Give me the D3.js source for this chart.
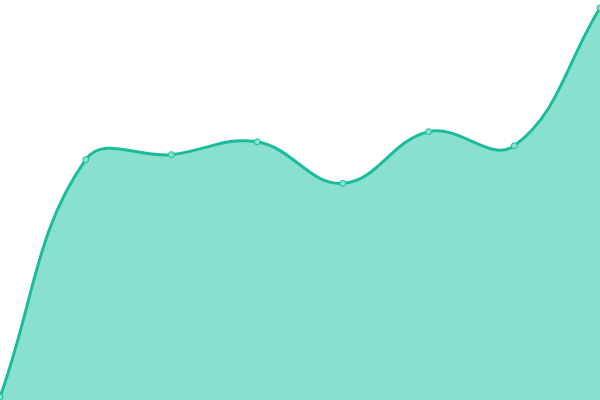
<!DOCTYPE html>
<html>
<head>
<meta charset="utf-8">
<script src="https://cdn.jsdelivr.net/npm/d3@7"></script>
<style>
  html, body { margin: 0; padding: 0; background: #fff; }
  svg { display: block; }
</style>
</head>
<body>
<svg></svg>
<script>
let width = 600,
  height = 400;

// values
let labels = ["1", "2", "3", "4", "5", "6", "7", "8"];
let values = [0, 61.0, 62.3, 65.6, 54.9, 68.2, 64.6, 100];

let tension = 0.4;

let svg = d3.select("svg").attr("width", width).attr("height", height);

let x = d3.scalePoint().domain(labels).range([0, width]);
let y = d3.scaleLinear().domain([0, 100]).range([397, 8]);

let pts = values.map((d, i) => [x(labels[i]), y(d)]);

// spline control points, each weighted by distance to neighbours
function controls(pts) {
  return pts.map((p, i) => {
    let prev = pts[i - 1] || p,
      next = pts[i + 1] || p;
    let d01 = Math.hypot(p[0] - prev[0], p[1] - prev[1]),
      d12 = Math.hypot(next[0] - p[0], next[1] - p[1]);
    let s = d01 + d12 || 1;
    let fa = (tension * d01) / s,
      fb = (tension * d12) / s;
    let dx = next[0] - prev[0],
      dy = next[1] - prev[1];
    return {
      before: [p[0] - fa * dx, p[1] - fa * dy],
      after: [p[0] + fb * dx, p[1] + fb * dy],
    };
  });
}

function spline(pts, closeToBase) {
  let cps = controls(pts);
  let p = d3.path();
  p.moveTo(pts[0][0], pts[0][1]);
  for (let i = 1; i < pts.length; i++) {
    let a = cps[i - 1].after,
      b = cps[i].before;
    p.bezierCurveTo(a[0], a[1], b[0], b[1], pts[i][0], pts[i][1]);
  }
  if (closeToBase) {
    p.lineTo(pts[pts.length - 1][0], height);
    p.lineTo(pts[0][0], height);
    p.closePath();
  }
  return p.toString();
}

svg.append("path").attr("d", spline(pts, true)).attr("fill", "#8ae0cf");

svg
  .append("path")
  .attr("d", spline(pts, false))
  .attr("fill", "none")
  .attr("stroke", "#1abc9c")
  .attr("stroke-width", 3);

svg
  .selectAll("circle")
  .data(values)
  .join("circle")
  .attr("cx", (d, i) => x(labels[i]))
  .attr("cy", (d) => y(d))
  .attr("r", 3)
  .attr("fill", "#8ae0cf")
  .attr("stroke", "#1abc9c")
  .attr("stroke-width", 1);
</script>
</body>
</html>
